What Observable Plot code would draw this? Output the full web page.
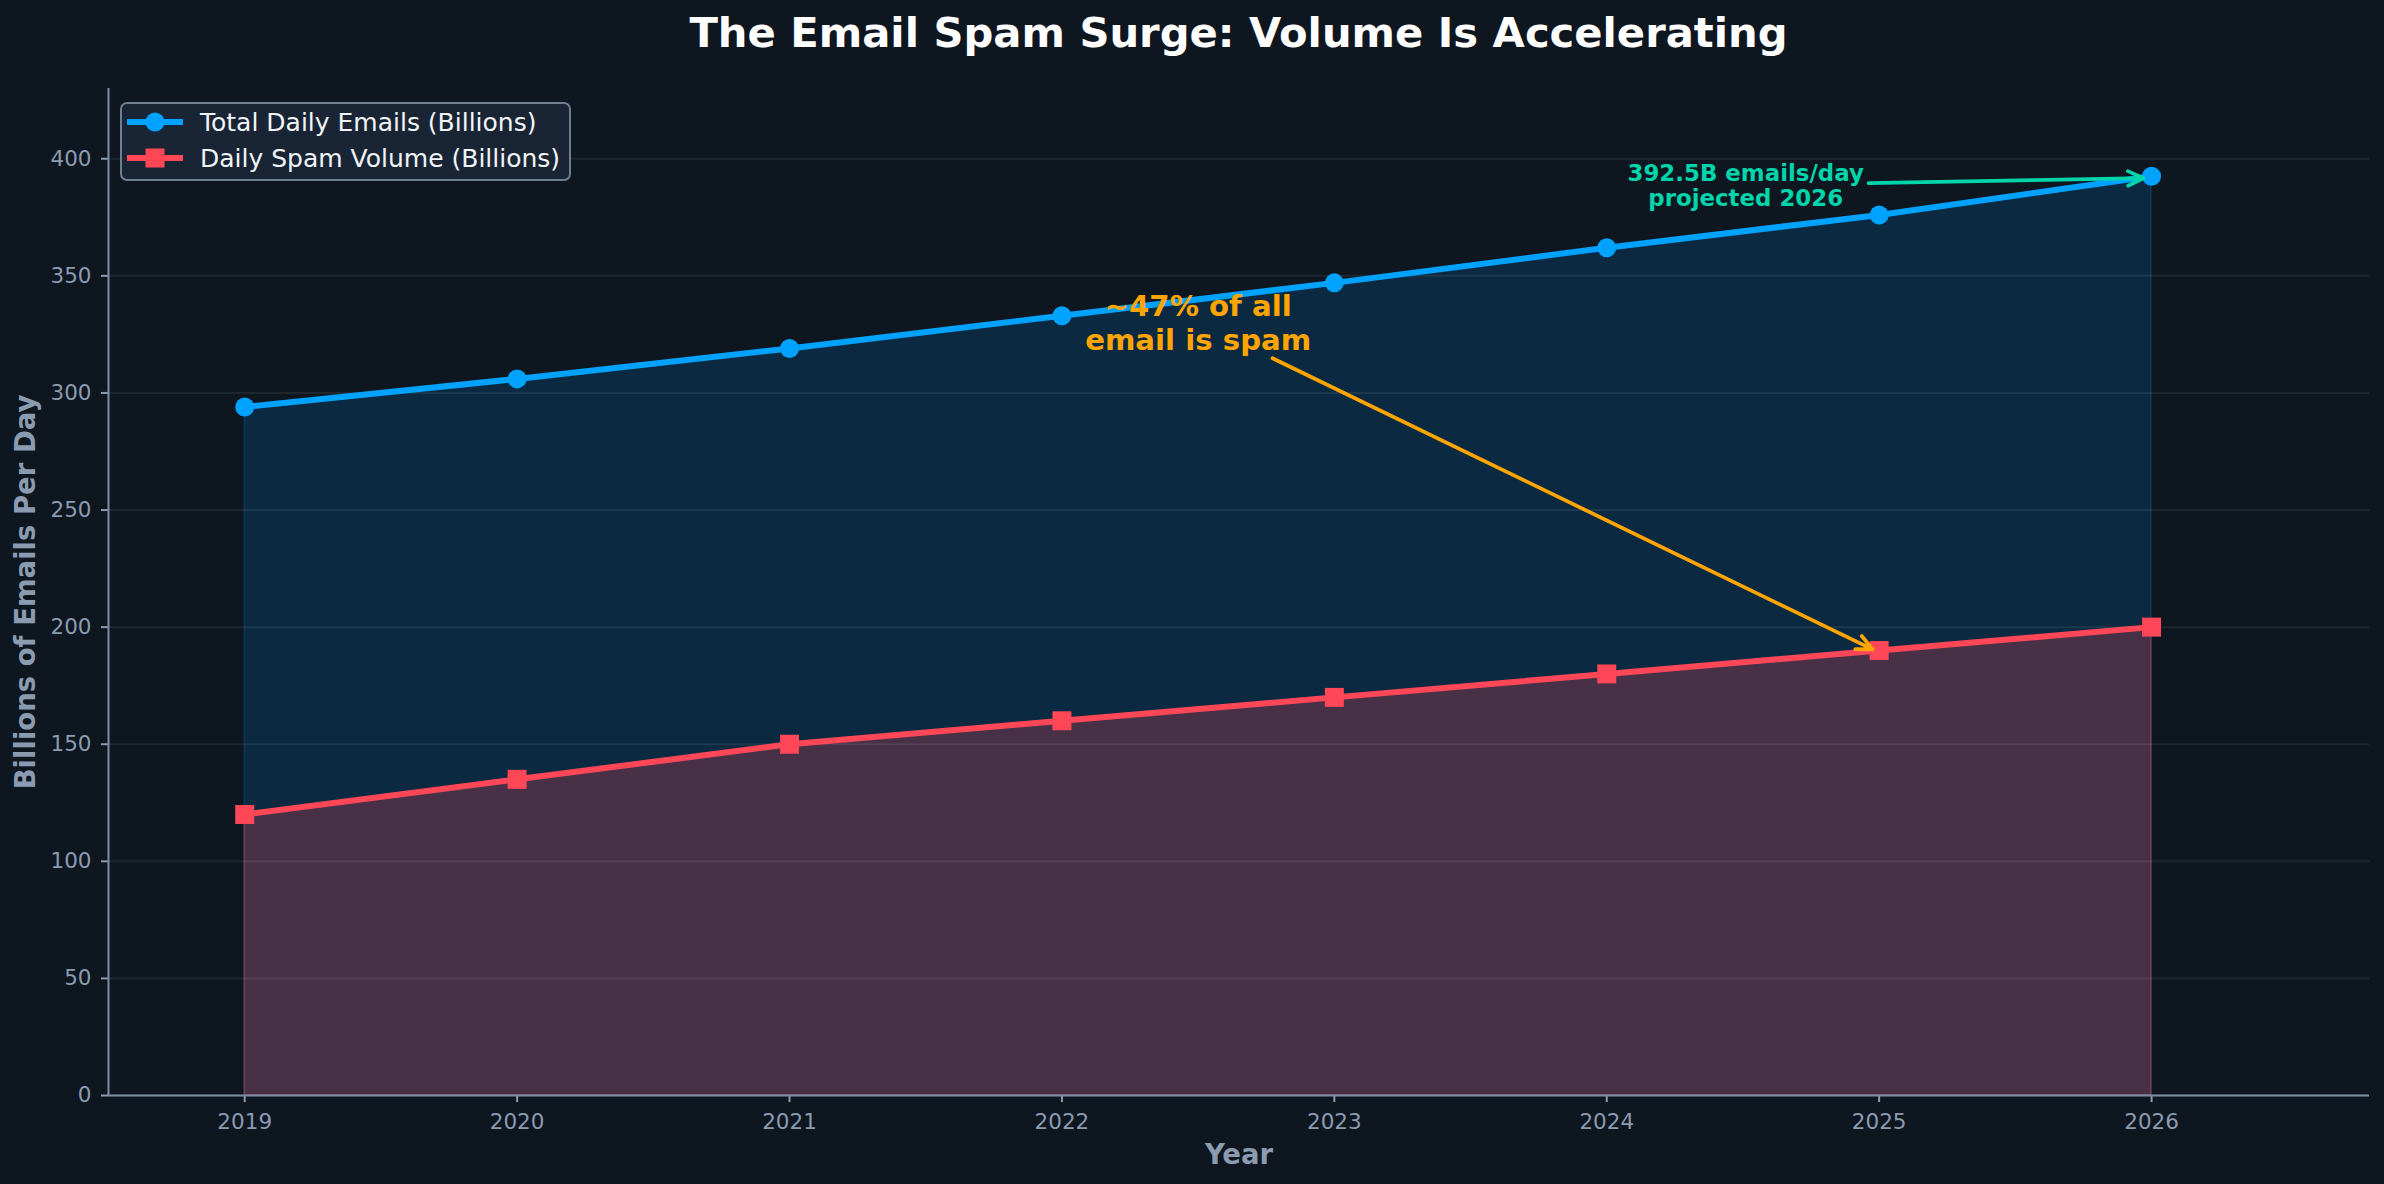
<!DOCTYPE html>
<html>
<head>
<meta charset="utf-8">
<script src="https://cdn.jsdelivr.net/npm/d3@7"></script>
<script src="https://cdn.jsdelivr.net/npm/@observablehq/plot@0.6"></script>
<style>
html, body { margin: 0; padding: 0; background: #0e1620; overflow: hidden; width: 2384px; height: 1184px; }
#wrap { position: relative; width: 2384px; height: 1184px; font-family: "DejaVu Sans", sans-serif; }
#title { height: 70px; line-height: 65px; color: #ffffff; font-weight: bold; font-size: 41.7px;
  text-align: center; padding-left: 108px; padding-right: 15px; box-sizing: border-box; white-space: nowrap; }
#legend { position: absolute; left: 120px; top: 102px; width: 451px; height: 79px; box-sizing: border-box;
  background: rgba(26, 38, 54, 0.95); border: 2px solid #6e7f91; border-radius: 7px; }
.lrow { position: absolute; left: 0; height: 36px; display: flex; align-items: center; }
.lrow svg { margin-left: 5px; }
.lrow span { margin-left: 17px; color: #f2f5f8; font-size: 25px; white-space: nowrap; }
</style>
</head>
<body>
<div id="wrap">
  <div id="title">The Email Spam Surge: Volume Is Accelerating</div>
  <div id="chart"></div>
  <div id="legend"></div>
</div>
<script>
// ---- data ----
const years = [2019, 2020, 2021, 2022, 2023, 2024, 2025, 2026];
const totalEmails = [294, 306, 319, 333, 347, 362, 376, 392.5];
const spamVolume = [120, 135, 150, 160, 170, 180, 190, 200];
const yTicks = [0, 50, 100, 150, 200, 250, 300, 350, 400];
const xTicks = years;
const seriesNames = ["Total Daily Emails (Billions)", "Daily Spam Volume (Billions)"];

// annotations (data coordinates)
const annoText = ["~47% of all\nemail is spam", "392.5B emails/day\nprojected 2026"];
const annoX = [2022.5, 2024.51];
const annoY = [330.2, 388.7];
const arrowFromX = [2022.773, 2024.961];
const arrowFromY = [314.8, 389.6];
const arrowToX = [2024.976, 2025.971];
const arrowToY = [190.5, 391.7];

// ---- styles ----
const BLUE = "#00a2ff", RED = "#ff4757", ORANGE = "#ffa502", TEAL = "#00d4aa";
const TICK = "#8b9bb0", SPINE = "#7d8ea3";

const rows = years.map((y, i) => ({year: y, total: totalEmails[i], spam: spamVolume[i]}));
const annos = annoText.map((t, i) => ({
  text: t, x: annoX[i], y: annoY[i],
  x1: arrowFromX[i], y1: arrowFromY[i], x2: arrowToX[i], y2: arrowToY[i],
  color: i === 0 ? ORANGE : TEAL
}));

const chart = Plot.plot({
  width: 2384,
  height: 1114,
  marginLeft: 108,
  marginRight: 15,
  marginTop: 18,
  marginBottom: 89,
  style: {background: "transparent", fontFamily: "DejaVu Sans, sans-serif", overflow: "visible"},
  x: {domain: [2018.5, 2026.8]},
  y: {domain: [0, 430]},
  marks: [
    Plot.areaY(rows, {x: "year", y: "total", fill: BLUE, fillOpacity: 0.15, stroke: BLUE, strokeOpacity: 0.15, strokeWidth: 2}),
    Plot.areaY(rows, {x: "year", y: "spam", fill: RED, fillOpacity: 0.25, stroke: RED, strokeOpacity: 0.25, strokeWidth: 2}),
    Plot.gridY(yTicks, {stroke: "#ffffff", strokeOpacity: 0.07, strokeWidth: 2}),
    Plot.axisY(yTicks, {tickSize: 7, tickPadding: 10, fontSize: 21.5, color: TICK, label: null, strokeWidth: 2}),
    Plot.axisX(xTicks, {tickSize: 7, tickPadding: 11, fontSize: 21.5, color: TICK, label: null, tickFormat: d => String(d), strokeWidth: 2}),
    Plot.ruleX([2018.5], {stroke: SPINE, strokeWidth: 2}),
    Plot.ruleY([0], {stroke: SPINE, strokeWidth: 2}),
    Plot.line(rows, {x: "year", y: "total", stroke: BLUE, strokeWidth: 6}),
    Plot.dot(rows, {x: "year", y: "total", r: 9.5, fill: BLUE, stroke: null}),
    Plot.line(rows, {x: "year", y: "spam", stroke: RED, strokeWidth: 6}),
    Plot.dot(rows, {x: "year", y: "spam", symbol: "square", r: 10.7, fill: RED, stroke: null}),
    Plot.text(["Billions of Emails Per Day"], {frameAnchor: "left", textAnchor: "middle", lineAnchor: "middle", dx: -82, rotate: -90, fontSize: 27.5, fontWeight: "bold", fill: TICK}),
    Plot.text(["Year"], {frameAnchor: "bottom", textAnchor: "middle", lineAnchor: "middle", dy: 60, fontSize: 27.5, fontWeight: "bold", fill: TICK}),
    Plot.arrow(annos, {x1: "x1", y1: "y1", x2: "x2", y2: "y2", stroke: "color", strokeWidth: 3.7, headLength: 7, headAngle: 50}),
    Plot.text(annos.slice(0, 1), {x: "x", y: "y", text: "text", fill: ORANGE, fontSize: 29.2, fontWeight: "bold", lineHeight: 1.16, textAnchor: "middle"}),
    Plot.text(annos.slice(1), {x: "x", y: "y", text: "text", fill: TEAL, fontSize: 22.9, fontWeight: "bold", lineHeight: 1.12, textAnchor: "middle"})
  ]
});
document.getElementById("chart").appendChild(chart);

// ---- legend ----
const legend = document.getElementById("legend");
const legendColors = [BLUE, RED];
const legendCenters = [18, 54];
seriesNames.forEach((name, i) => {
  const row = document.createElement("div");
  row.className = "lrow";
  row.style.top = (legendCenters[i] - 18) + "px";
  const marker = i === 0
    ? `<circle cx="28" cy="18" r="9.5" fill="${legendColors[i]}"/>`
    : `<rect x="18.5" y="8.5" width="19" height="19" fill="${legendColors[i]}"/>`;
  row.innerHTML = `<svg width="56" height="36"><line x1="0" x2="56" y1="18" y2="18" stroke="${legendColors[i]}" stroke-width="6"/>${marker}</svg><span>${name}</span>`;
  legend.appendChild(row);
});
</script>
</body>
</html>
